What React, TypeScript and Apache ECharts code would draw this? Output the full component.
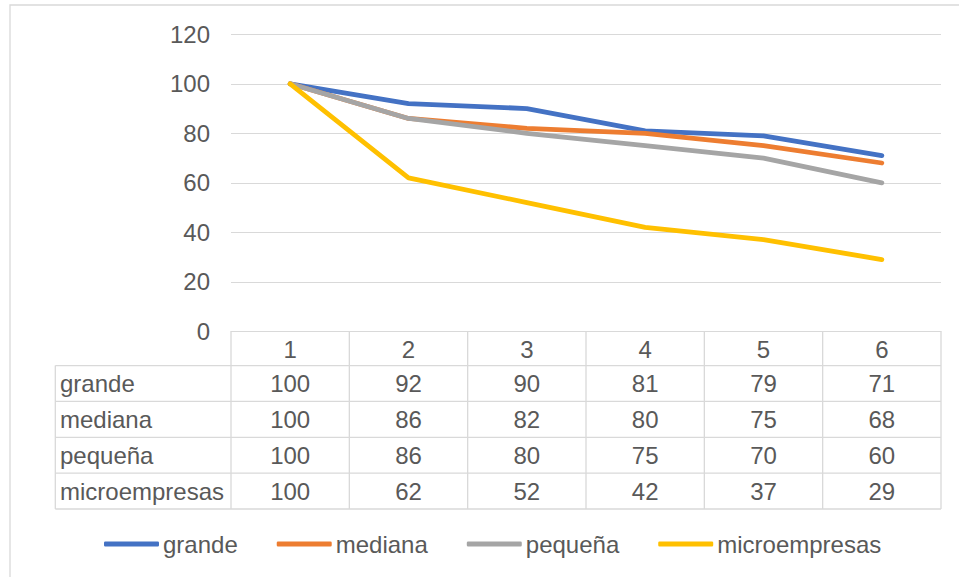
import React, { useEffect, useRef } from "react";
import * as echarts from "echarts";

const categories = ["1", "2", "3", "4", "5", "6"];
const seriesNames = ["grande", "mediana", "pequeña", "microempresas"];
const grande = [100, 92, 90, 81, 79, 71];
const mediana = [100, 86, 82, 80, 75, 68];
const pequena = [100, 86, 80, 75, 70, 60];
const microempresas = [100, 62, 52, 42, 37, 29];
const seriesValues = [grande, mediana, pequena, microempresas];
const colors = ["#4472C4", "#ED7D31", "#A5A5A5", "#FFC000"];

const FONT = "'Liberation Sans', Arial, sans-serif";
const TEXT = "#595959";
const LINE = "#D9D9D9";
const FS = 24;

export default function App() {
  const ref = useRef<HTMLDivElement>(null);
  useEffect(() => {
    if (!ref.current) return;
    const chart = echarts.init(ref.current, null, { renderer: "svg" });
    const gridLeft = 231;
    const gridTop = 34.3;
    const gridW = 710;
    const gridH = 297;
    const option: any = {
      animation: false,
      textStyle: { fontFamily: FONT },
      color: colors,
      grid: { left: gridLeft, top: gridTop, width: gridW, height: gridH },
      xAxis: {
        type: "category",
        data: categories,
        boundaryGap: true,
        axisLine: { show: true, lineStyle: { color: LINE, width: 1 } },
        axisTick: { show: false },
        axisLabel: { fontSize: FS, color: TEXT, margin: 6, fontFamily: FONT },
        splitLine: { show: false },
      },
      yAxis: {
        type: "value",
        min: 0,
        max: 120,
        interval: 20,
        axisLine: { show: false },
        axisTick: { show: false },
        axisLabel: { fontSize: FS, color: TEXT, margin: 21, fontFamily: FONT },
        splitLine: { lineStyle: { color: LINE, width: 1 } },
      },
      legend: {
        data: seriesNames,
        left: 104,
        top: 532,
        padding: 0,
        icon: "roundRect",
        itemWidth: 55,
        itemHeight: 5,
        itemGap: 39,
        textStyle: { fontSize: FS, color: TEXT, fontFamily: FONT, padding: [0, 0, 0, -1] },
      },
      series: seriesNames.map((name, i) => ({
        name,
        type: "line",
        data: seriesValues[i],
        showSymbol: false,
        symbol: "none",
        lineStyle: { width: 4.8, color: colors[i], cap: "round", join: "round" },
        itemStyle: { color: colors[i] },
      })),
    };
    chart.setOption(option);

    const colW = gridW / categories.length;
    const tableTop = gridTop + gridH;
    const rowTop = 365.6;
    const rowH = 35.85;
    const labelLeft = 55.3;
    const tableBottom = rowTop + rowH * seriesNames.length;
    const right = gridLeft + gridW;
    const els: any[] = [];
    els.push({
      type: "rect",
      shape: { x: 10, y: 5, width: 1000, height: 700 },
      style: { fill: "none", stroke: LINE, lineWidth: 1.3 },
      silent: true,
    });
    for (let k = 0; k <= categories.length; k++) {
      const x = gridLeft + k * colW;
      els.push({
        type: "line",
        shape: { x1: x, y1: tableTop, x2: x, y2: tableBottom },
        style: { stroke: LINE, lineWidth: 1.3 },
      });
    }
    els.push({
      type: "line",
      shape: { x1: labelLeft, y1: rowTop, x2: labelLeft, y2: tableBottom },
      style: { stroke: LINE, lineWidth: 1.3 },
    });
    for (let r = 0; r <= seriesNames.length; r++) {
      const y = rowTop + r * rowH;
      els.push({
        type: "line",
        shape: { x1: labelLeft, y1: y, x2: right, y2: y },
        style: { stroke: LINE, lineWidth: 1.3 },
      });
    }
    seriesNames.forEach((name, r) => {
      const cy = rowTop + r * rowH + rowH / 2;
      els.push({
        type: "text",
        x: 60,
        y: cy,
        style: { text: name, fontSize: FS, fill: TEXT, fontFamily: FONT, textAlign: "left", textVerticalAlign: "middle" },
      });
      seriesValues[r].forEach((v, c) => {
        const px = chart.convertToPixel({ xAxisIndex: 0 }, c) as number;
        els.push({
          type: "text",
          x: px,
          y: cy,
          style: { text: String(v), fontSize: FS, fill: TEXT, fontFamily: FONT, textAlign: "center", textVerticalAlign: "middle" },
        });
      });
    });
    chart.setOption({ graphic: els });
    return () => chart.dispose();
  }, []);
  return (
    <div
      ref={ref}
      style={{ position: "absolute", left: 0, top: 0, width: 959, height: 577, background: "#fff" }}
    />
  );
}
